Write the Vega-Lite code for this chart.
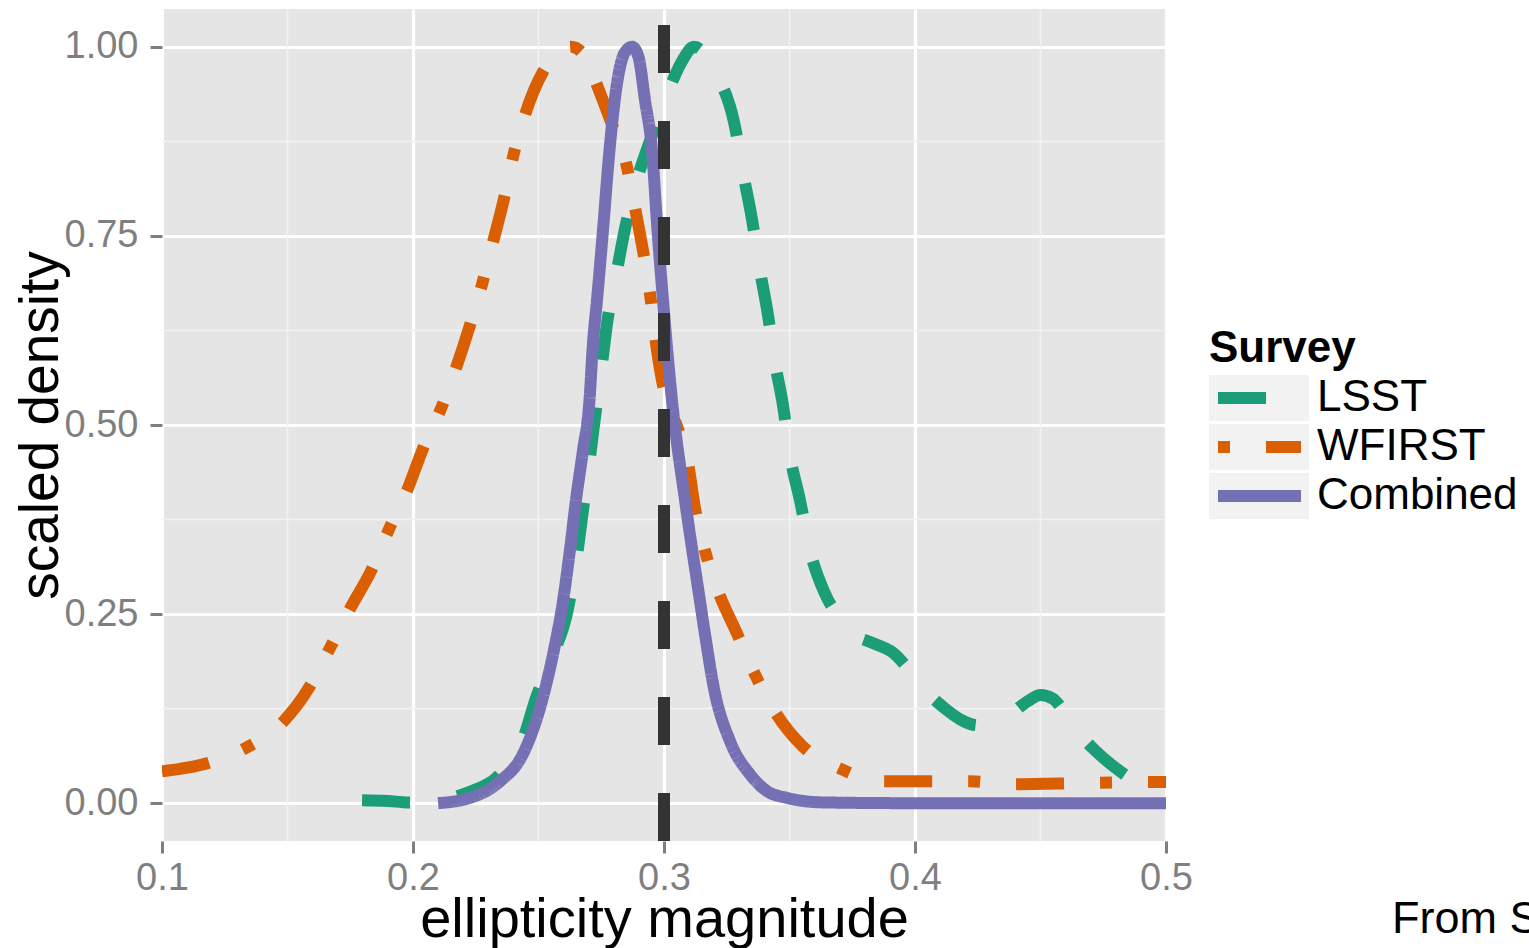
{
  "$schema": "https://vega.github.io/schema/vega-lite/v6.json",
  "width": 1004,
  "height": 832,
  "autosize": {"type": "none"},
  "padding": {"left": 162, "top": 9, "right": 363, "bottom": 107},
  "background": "white",
  "config": {
    "font": "Liberation Sans",
    "view": {"fill": "#E5E5E5", "stroke": null}
  },
  "title": {
    "text": "From S",
    "orient": "top",
    "anchor": "start",
    "frame": "group",
    "fontSize": 45,
    "fontWeight": "normal",
    "color": "#000000",
    "font": "Liberation Sans",
    "baseline": "alphabetic",
    "offset": 0,
    "dx": 1230,
    "dy": 975
  },
  "datasets": {
    "curves": [
      {"Survey": "LSST", "x": 0.1797, "y": 0.004},
      {"Survey": "LSST", "x": 0.19, "y": 0.003},
      {"Survey": "LSST", "x": 0.198, "y": 0.001},
      {"Survey": "LSST", "x": 0.205, "y": 0.001},
      {"Survey": "LSST", "x": 0.2175, "y": 0.009},
      {"Survey": "LSST", "x": 0.225, "y": 0.018},
      {"Survey": "LSST", "x": 0.2327, "y": 0.032},
      {"Survey": "LSST", "x": 0.2385, "y": 0.055},
      {"Survey": "LSST", "x": 0.2438, "y": 0.085},
      {"Survey": "LSST", "x": 0.249, "y": 0.139},
      {"Survey": "LSST", "x": 0.255, "y": 0.19},
      {"Survey": "LSST", "x": 0.2618, "y": 0.258},
      {"Survey": "LSST", "x": 0.2653, "y": 0.327},
      {"Survey": "LSST", "x": 0.2677, "y": 0.387},
      {"Survey": "LSST", "x": 0.2705, "y": 0.457},
      {"Survey": "LSST", "x": 0.2725, "y": 0.51},
      {"Survey": "LSST", "x": 0.2753, "y": 0.581},
      {"Survey": "LSST", "x": 0.2773, "y": 0.634},
      {"Survey": "LSST", "x": 0.2813, "y": 0.705},
      {"Survey": "LSST", "x": 0.2845, "y": 0.76},
      {"Survey": "LSST", "x": 0.2896, "y": 0.828},
      {"Survey": "LSST", "x": 0.295, "y": 0.881},
      {"Survey": "LSST", "x": 0.3024, "y": 0.947},
      {"Survey": "LSST", "x": 0.307, "y": 0.98},
      {"Survey": "LSST", "x": 0.312, "y": 1.0},
      {"Survey": "LSST", "x": 0.3175, "y": 0.985},
      {"Survey": "LSST", "x": 0.3223, "y": 0.956},
      {"Survey": "LSST", "x": 0.328, "y": 0.899},
      {"Survey": "LSST", "x": 0.3315, "y": 0.833},
      {"Survey": "LSST", "x": 0.335, "y": 0.773},
      {"Survey": "LSST", "x": 0.338, "y": 0.709},
      {"Survey": "LSST", "x": 0.3414, "y": 0.646},
      {"Survey": "LSST", "x": 0.3442, "y": 0.583},
      {"Survey": "LSST", "x": 0.3474, "y": 0.526},
      {"Survey": "LSST", "x": 0.3502, "y": 0.46},
      {"Survey": "LSST", "x": 0.3542, "y": 0.4},
      {"Survey": "LSST", "x": 0.3582, "y": 0.334},
      {"Survey": "LSST", "x": 0.364, "y": 0.278},
      {"Survey": "LSST", "x": 0.37, "y": 0.245},
      {"Survey": "LSST", "x": 0.3753, "y": 0.224},
      {"Survey": "LSST", "x": 0.383, "y": 0.212},
      {"Survey": "LSST", "x": 0.3912, "y": 0.199},
      {"Survey": "LSST", "x": 0.398, "y": 0.175},
      {"Survey": "LSST", "x": 0.405, "y": 0.146},
      {"Survey": "LSST", "x": 0.412, "y": 0.125},
      {"Survey": "LSST", "x": 0.419, "y": 0.109},
      {"Survey": "LSST", "x": 0.425, "y": 0.103},
      {"Survey": "LSST", "x": 0.43, "y": 0.104},
      {"Survey": "LSST", "x": 0.437, "y": 0.115},
      {"Survey": "LSST", "x": 0.445, "y": 0.135},
      {"Survey": "LSST", "x": 0.45, "y": 0.143},
      {"Survey": "LSST", "x": 0.455, "y": 0.138},
      {"Survey": "LSST", "x": 0.46, "y": 0.118},
      {"Survey": "LSST", "x": 0.4657, "y": 0.091},
      {"Survey": "LSST", "x": 0.472, "y": 0.069},
      {"Survey": "LSST", "x": 0.479, "y": 0.049},
      {"Survey": "LSST", "x": 0.488, "y": 0.028},
      {"Survey": "LSST", "x": 0.4968, "y": 0.013},
      {"Survey": "LSST", "x": 0.5, "y": 0.009},
      {"Survey": "WFIRST", "x": 0.1, "y": 0.042},
      {"Survey": "WFIRST", "x": 0.1183, "y": 0.053},
      {"Survey": "WFIRST", "x": 0.1339, "y": 0.074},
      {"Survey": "WFIRST", "x": 0.1478, "y": 0.106},
      {"Survey": "WFIRST", "x": 0.159, "y": 0.155},
      {"Survey": "WFIRST", "x": 0.1669, "y": 0.205},
      {"Survey": "WFIRST", "x": 0.1749, "y": 0.257},
      {"Survey": "WFIRST", "x": 0.1837, "y": 0.31},
      {"Survey": "WFIRST", "x": 0.1904, "y": 0.362},
      {"Survey": "WFIRST", "x": 0.1976, "y": 0.413},
      {"Survey": "WFIRST", "x": 0.204, "y": 0.469},
      {"Survey": "WFIRST", "x": 0.2112, "y": 0.522},
      {"Survey": "WFIRST", "x": 0.2171, "y": 0.575},
      {"Survey": "WFIRST", "x": 0.2227, "y": 0.632},
      {"Survey": "WFIRST", "x": 0.2275, "y": 0.686},
      {"Survey": "WFIRST", "x": 0.2319, "y": 0.742},
      {"Survey": "WFIRST", "x": 0.2363, "y": 0.8},
      {"Survey": "WFIRST", "x": 0.2398, "y": 0.854},
      {"Survey": "WFIRST", "x": 0.2446, "y": 0.91},
      {"Survey": "WFIRST", "x": 0.2518, "y": 0.967},
      {"Survey": "WFIRST", "x": 0.257, "y": 0.99},
      {"Survey": "WFIRST", "x": 0.263, "y": 1.0},
      {"Survey": "WFIRST", "x": 0.268, "y": 0.99},
      {"Survey": "WFIRST", "x": 0.2725, "y": 0.956},
      {"Survey": "WFIRST", "x": 0.2793, "y": 0.897},
      {"Survey": "WFIRST", "x": 0.2849, "y": 0.846},
      {"Survey": "WFIRST", "x": 0.2884, "y": 0.788},
      {"Survey": "WFIRST", "x": 0.2916, "y": 0.731},
      {"Survey": "WFIRST", "x": 0.2944, "y": 0.674},
      {"Survey": "WFIRST", "x": 0.2964, "y": 0.618},
      {"Survey": "WFIRST", "x": 0.2992, "y": 0.559},
      {"Survey": "WFIRST", "x": 0.3044, "y": 0.506},
      {"Survey": "WFIRST", "x": 0.3096, "y": 0.449},
      {"Survey": "WFIRST", "x": 0.3124, "y": 0.389},
      {"Survey": "WFIRST", "x": 0.3163, "y": 0.334},
      {"Survey": "WFIRST", "x": 0.3215, "y": 0.281},
      {"Survey": "WFIRST", "x": 0.329, "y": 0.225},
      {"Survey": "WFIRST", "x": 0.336, "y": 0.172},
      {"Survey": "WFIRST", "x": 0.344, "y": 0.122},
      {"Survey": "WFIRST", "x": 0.355, "y": 0.076},
      {"Survey": "WFIRST", "x": 0.37, "y": 0.046},
      {"Survey": "WFIRST", "x": 0.386, "y": 0.029},
      {"Survey": "WFIRST", "x": 0.405, "y": 0.029},
      {"Survey": "WFIRST", "x": 0.422, "y": 0.029},
      {"Survey": "WFIRST", "x": 0.4386, "y": 0.025},
      {"Survey": "WFIRST", "x": 0.457, "y": 0.026},
      {"Survey": "WFIRST", "x": 0.474, "y": 0.027},
      {"Survey": "WFIRST", "x": 0.49, "y": 0.028},
      {"Survey": "WFIRST", "x": 0.5, "y": 0.028},
      {"Survey": "Combined", "x": 0.21, "y": 0.0},
      {"Survey": "Combined", "x": 0.2227, "y": 0.007},
      {"Survey": "Combined", "x": 0.2347, "y": 0.029},
      {"Survey": "Combined", "x": 0.2438, "y": 0.065},
      {"Survey": "Combined", "x": 0.2506, "y": 0.126},
      {"Survey": "Combined", "x": 0.2558, "y": 0.197},
      {"Survey": "Combined", "x": 0.2598, "y": 0.268},
      {"Survey": "Combined", "x": 0.2625, "y": 0.334},
      {"Survey": "Combined", "x": 0.2649, "y": 0.4},
      {"Survey": "Combined", "x": 0.2677, "y": 0.466},
      {"Survey": "Combined", "x": 0.2703, "y": 0.532},
      {"Survey": "Combined", "x": 0.2717, "y": 0.608},
      {"Survey": "Combined", "x": 0.2733, "y": 0.665},
      {"Survey": "Combined", "x": 0.2757, "y": 0.758},
      {"Survey": "Combined", "x": 0.2783, "y": 0.864},
      {"Survey": "Combined", "x": 0.2813, "y": 0.952},
      {"Survey": "Combined", "x": 0.2843, "y": 0.992},
      {"Survey": "Combined", "x": 0.2873, "y": 1.0},
      {"Survey": "Combined", "x": 0.2898, "y": 0.987},
      {"Survey": "Combined", "x": 0.2924, "y": 0.93},
      {"Survey": "Combined", "x": 0.2952, "y": 0.864},
      {"Survey": "Combined", "x": 0.2974, "y": 0.758},
      {"Survey": "Combined", "x": 0.2996, "y": 0.665},
      {"Survey": "Combined", "x": 0.3032, "y": 0.532},
      {"Survey": "Combined", "x": 0.3084, "y": 0.4},
      {"Survey": "Combined", "x": 0.3143, "y": 0.268},
      {"Survey": "Combined", "x": 0.3163, "y": 0.224},
      {"Survey": "Combined", "x": 0.3199, "y": 0.152},
      {"Survey": "Combined", "x": 0.3263, "y": 0.082},
      {"Survey": "Combined", "x": 0.3343, "y": 0.038},
      {"Survey": "Combined", "x": 0.341, "y": 0.016},
      {"Survey": "Combined", "x": 0.349, "y": 0.007},
      {"Survey": "Combined", "x": 0.3633, "y": 0.001},
      {"Survey": "Combined", "x": 0.4, "y": 0.0},
      {"Survey": "Combined", "x": 0.45, "y": 0.0},
      {"Survey": "Combined", "x": 0.5, "y": 0.0}
    ],
    "minorx": [{"gx": 0.15}, {"gx": 0.25}, {"gx": 0.35}, {"gx": 0.45}],
    "minory": [{"gy": 0.125}, {"gy": 0.375}, {"gy": 0.625}, {"gy": 0.875}],
    "vline": [{"xint": 0.3}]
  },
  "layer": [
    {
      "data": {"name": "minorx"},
      "mark": {"type": "rule", "color": "#F2F2F2", "strokeWidth": 1.6},
      "encoding": {
        "x": {"field": "gx", "type": "quantitative", "scale": {"domain": [0.1, 0.5], "nice": false, "zero": false}}
      }
    },
    {
      "data": {"name": "minory"},
      "mark": {"type": "rule", "color": "#F2F2F2", "strokeWidth": 1.6},
      "encoding": {
        "y": {"field": "gy", "type": "quantitative", "scale": {"domain": [-0.05, 1.05], "nice": false, "zero": false}}
      }
    },
    {
      "data": {"name": "curves"},
      "mark": {"type": "line", "strokeWidth": 12, "strokeCap": "butt", "strokeJoin": "round", "interpolate": "monotone", "clip": true},
      "encoding": {
        "x": {
          "field": "x", "type": "quantitative",
          "scale": {"domain": [0.1, 0.5], "nice": false, "zero": false},
          "axis": {
            "title": "ellipticity magnitude",
            "values": [0.1, 0.2, 0.3, 0.4, 0.5],
            "format": ".1f",
            "domain": false,
            "grid": true, "gridColor": "#FFFFFF", "gridWidth": 3.2,
            "ticks": true, "tickColor": "#7F7F7F", "tickWidth": 3, "tickSize": 12,
            "labelFont": "Liberation Sans", "labelFontSize": 38, "labelColor": "#7F7F7F", "labelPadding": 6,
            "labelFlush": false, "labelOverlap": false,
            "titleFont": "Liberation Sans", "titleFontSize": 56, "titleFontWeight": "normal", "titleColor": "#000000",
            "titleBaseline": "alphabetic", "titleY": 95
          }
        },
        "y": {
          "field": "y", "type": "quantitative",
          "scale": {"domain": [-0.05, 1.05], "nice": false, "zero": false},
          "axis": {
            "title": "scaled density",
            "values": [0, 0.25, 0.5, 0.75, 1],
            "format": ".2f",
            "domain": false,
            "grid": true, "gridColor": "#FFFFFF", "gridWidth": 3.2,
            "ticks": true, "tickColor": "#7F7F7F", "tickWidth": 3, "tickSize": 12,
            "labelFont": "Liberation Sans", "labelFontSize": 38, "labelColor": "#7F7F7F", "labelPadding": 12,
            "labelFlush": false, "labelOverlap": false, "labelBaseline": "middle",
            "titleFont": "Liberation Sans", "titleFontSize": 55, "titleFontWeight": "normal", "titleColor": "#000000",
            "titleAngle": -90, "titleBaseline": "alphabetic", "titleX": -105, "titleY": 416, "titleAlign": "center"
          }
        },
        "color": {
          "field": "Survey", "type": "nominal",
          "scale": {"domain": ["LSST", "WFIRST", "Combined"], "range": ["#1B9E77", "#D95F02", "#7570B3"]},
          "legend": {
            "title": "Survey",
            "orient": "none",
            "legendX": 1047,
            "legendY": 318,
            "zindex": 2,
            "padding": 0,
            "titleFont": "Liberation Sans", "titleFontSize": 44, "titleFontWeight": "bold", "titleColor": "#000000",
            "titlePadding": 4,
            "labelFont": "Liberation Sans", "labelFontSize": 44, "labelColor": "#000000",
            "labelOffset": 10, "labelLimit": 0,
            "symbolType": "stroke", "symbolSize": 6889, "symbolStrokeWidth": 12, "symbolOffset": 3,
            "clipHeight": 46,
            "rowPadding": 3,
            "encode": {
              "symbols": {"update": {"strokeDashOffset": {"signal": "datum.value === 'WFIRST' ? 84 : 0"}, "strokeCap": {"value": "butt"}}}
            }
          }
        },
        "strokeDash": {
          "field": "Survey", "type": "nominal",
          "scale": {"domain": ["LSST", "WFIRST", "Combined"], "range": [[48, 48], [48, 36, 12, 36], [1, 0]]}
        },
        "opacity": {
          "field": "Survey", "type": "ordinal",
          "scale": {"type": "ordinal", "range": [1, 1, 1]},
          "legend": {
            "title": null,
            "orient": "none",
            "legendX": 1047,
            "legendY": 366,
            "zindex": 1,
            "padding": 0,
            "labelExpr": "''",
            "labelFontSize": 1,
            "symbolType": "M-1,-0.46H1V0.46H-1Z",
            "symbolSize": 10000,
            "symbolStrokeWidth": 0,
            "symbolOffset": 0,
            "clipHeight": 46,
            "rowPadding": 3,
            "encode": {
              "symbols": {"update": {"fill": {"value": "#F2F2F2"}, "stroke": {"value": "transparent"}, "strokeWidth": {"value": 0}, "opacity": {"value": 1}}}
            }
          }
        }
      }
    },
    {
      "data": {"name": "vline"},
      "mark": {"type": "rule", "color": "#333333", "strokeWidth": 12, "strokeDash": [48, 48], "strokeCap": "butt"},
      "encoding": {
        "x": {"field": "xint", "type": "quantitative", "scale": {"domain": [0.1, 0.5], "nice": false, "zero": false}},
        "y": {"datum": -0.05, "type": "quantitative", "scale": {"domain": [-0.05, 1.05], "nice": false, "zero": false}},
        "y2": {"datum": 1.05}
      }
    }
  ]
}
